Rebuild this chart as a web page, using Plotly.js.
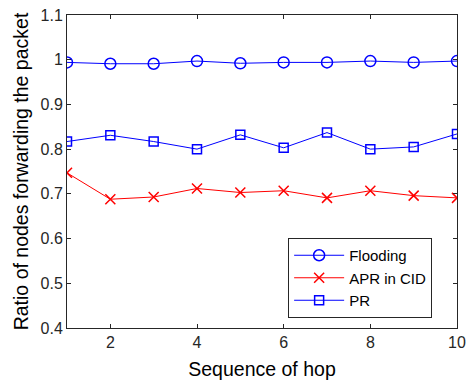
<!DOCTYPE html>
<html>
<head>
<meta charset="utf-8">
<script src="https://cdn.plot.ly/plotly-3.0.1.min.js"></script>
<style>html,body{margin:0;padding:0;background:#fff;}#chart{width:467px;height:380px;}</style>
</head>
<body>
<div id="chart"></div>
<script>
const hops = [1, 2, 3, 4, 5, 6, 7, 8, 9, 10];
const flooding = [0.994, 0.991, 0.991, 0.997, 0.992, 0.994, 0.994, 0.997, 0.994, 0.997];
const aprInCid = [0.747, 0.688, 0.693, 0.712, 0.703, 0.707, 0.691, 0.707, 0.696, 0.691];
const pr = [0.817, 0.831, 0.817, 0.800, 0.832, 0.803, 0.837, 0.800, 0.805, 0.834];
const yTickVals = [0.4, 0.5, 0.6, 0.7, 0.8, 0.9, 1.0, 1.1];
const yTickText = ['0.4', '0.5', '0.6', '0.7', '0.8', '0.9', '1', '1.1'];
const xTickVals = [2, 4, 6, 8, 10];

const font = 'Liberation Sans, Arial, sans-serif';
const traces = [
  {x: hops, y: flooding, name: 'Flooding', mode: 'lines+markers',
   line: {color: '#0000ff', width: 1},
   marker: {symbol: 'circle-open', size: 11, color: '#0000ff', line: {width: 1.5}}},
  {x: hops, y: aprInCid, name: 'APR in CID', mode: 'lines+markers',
   line: {color: '#ff0000', width: 1},
   marker: {symbol: 'x-thin-open', size: 10, color: '#ff0000', line: {width: 1.5}}},
  {x: hops, y: pr, name: 'PR', mode: 'lines+markers',
   line: {color: '#0000ff', width: 1},
   marker: {symbol: 'square-open', size: 9, color: '#0000ff', line: {width: 1.5}}}
];

const axisCommon = {
  showgrid: false, zeroline: false, showline: true, mirror: 'ticks',
  linecolor: '#262626', linewidth: 1, ticks: 'inside', ticklen: 4,
  tickcolor: '#262626', tickfont: {family: font, size: 16, color: '#262626'},
  ticklabeloverflow: 'allow'
};

const layout = {
  width: 467, height: 380,
  margin: {l: 67, r: 10, t: 15, b: 52},
  paper_bgcolor: '#fff', plot_bgcolor: '#fff',
  showlegend: true,
  legend: {x: 0.567, y: 0.2875, xanchor: 'left', yanchor: 'top',
    bgcolor: '#fff', bordercolor: '#262626', borderwidth: 1,
    itemwidth: 50, tracegroupgap: 0,
    font: {family: font, size: 15, color: '#000'}},
  xaxis: Object.assign({}, axisCommon, {
    range: [1, 10], tickvals: xTickVals,
    title: {text: 'Sequence of hop', font: {family: font, size: 19.5, color: '#000'}, standoff: 13}
  }),
  yaxis: Object.assign({}, axisCommon, {
    range: [0.4, 1.1], tickvals: yTickVals, ticktext: yTickText,
    title: {text: 'Ratio of nodes forwarding the packet', font: {family: font, size: 19.5, color: '#000'}, standoff: 6}
  })
};

Plotly.newPlot('chart', traces, layout, {displayModeBar: false, staticPlot: true});
</script>
</body>
</html>
